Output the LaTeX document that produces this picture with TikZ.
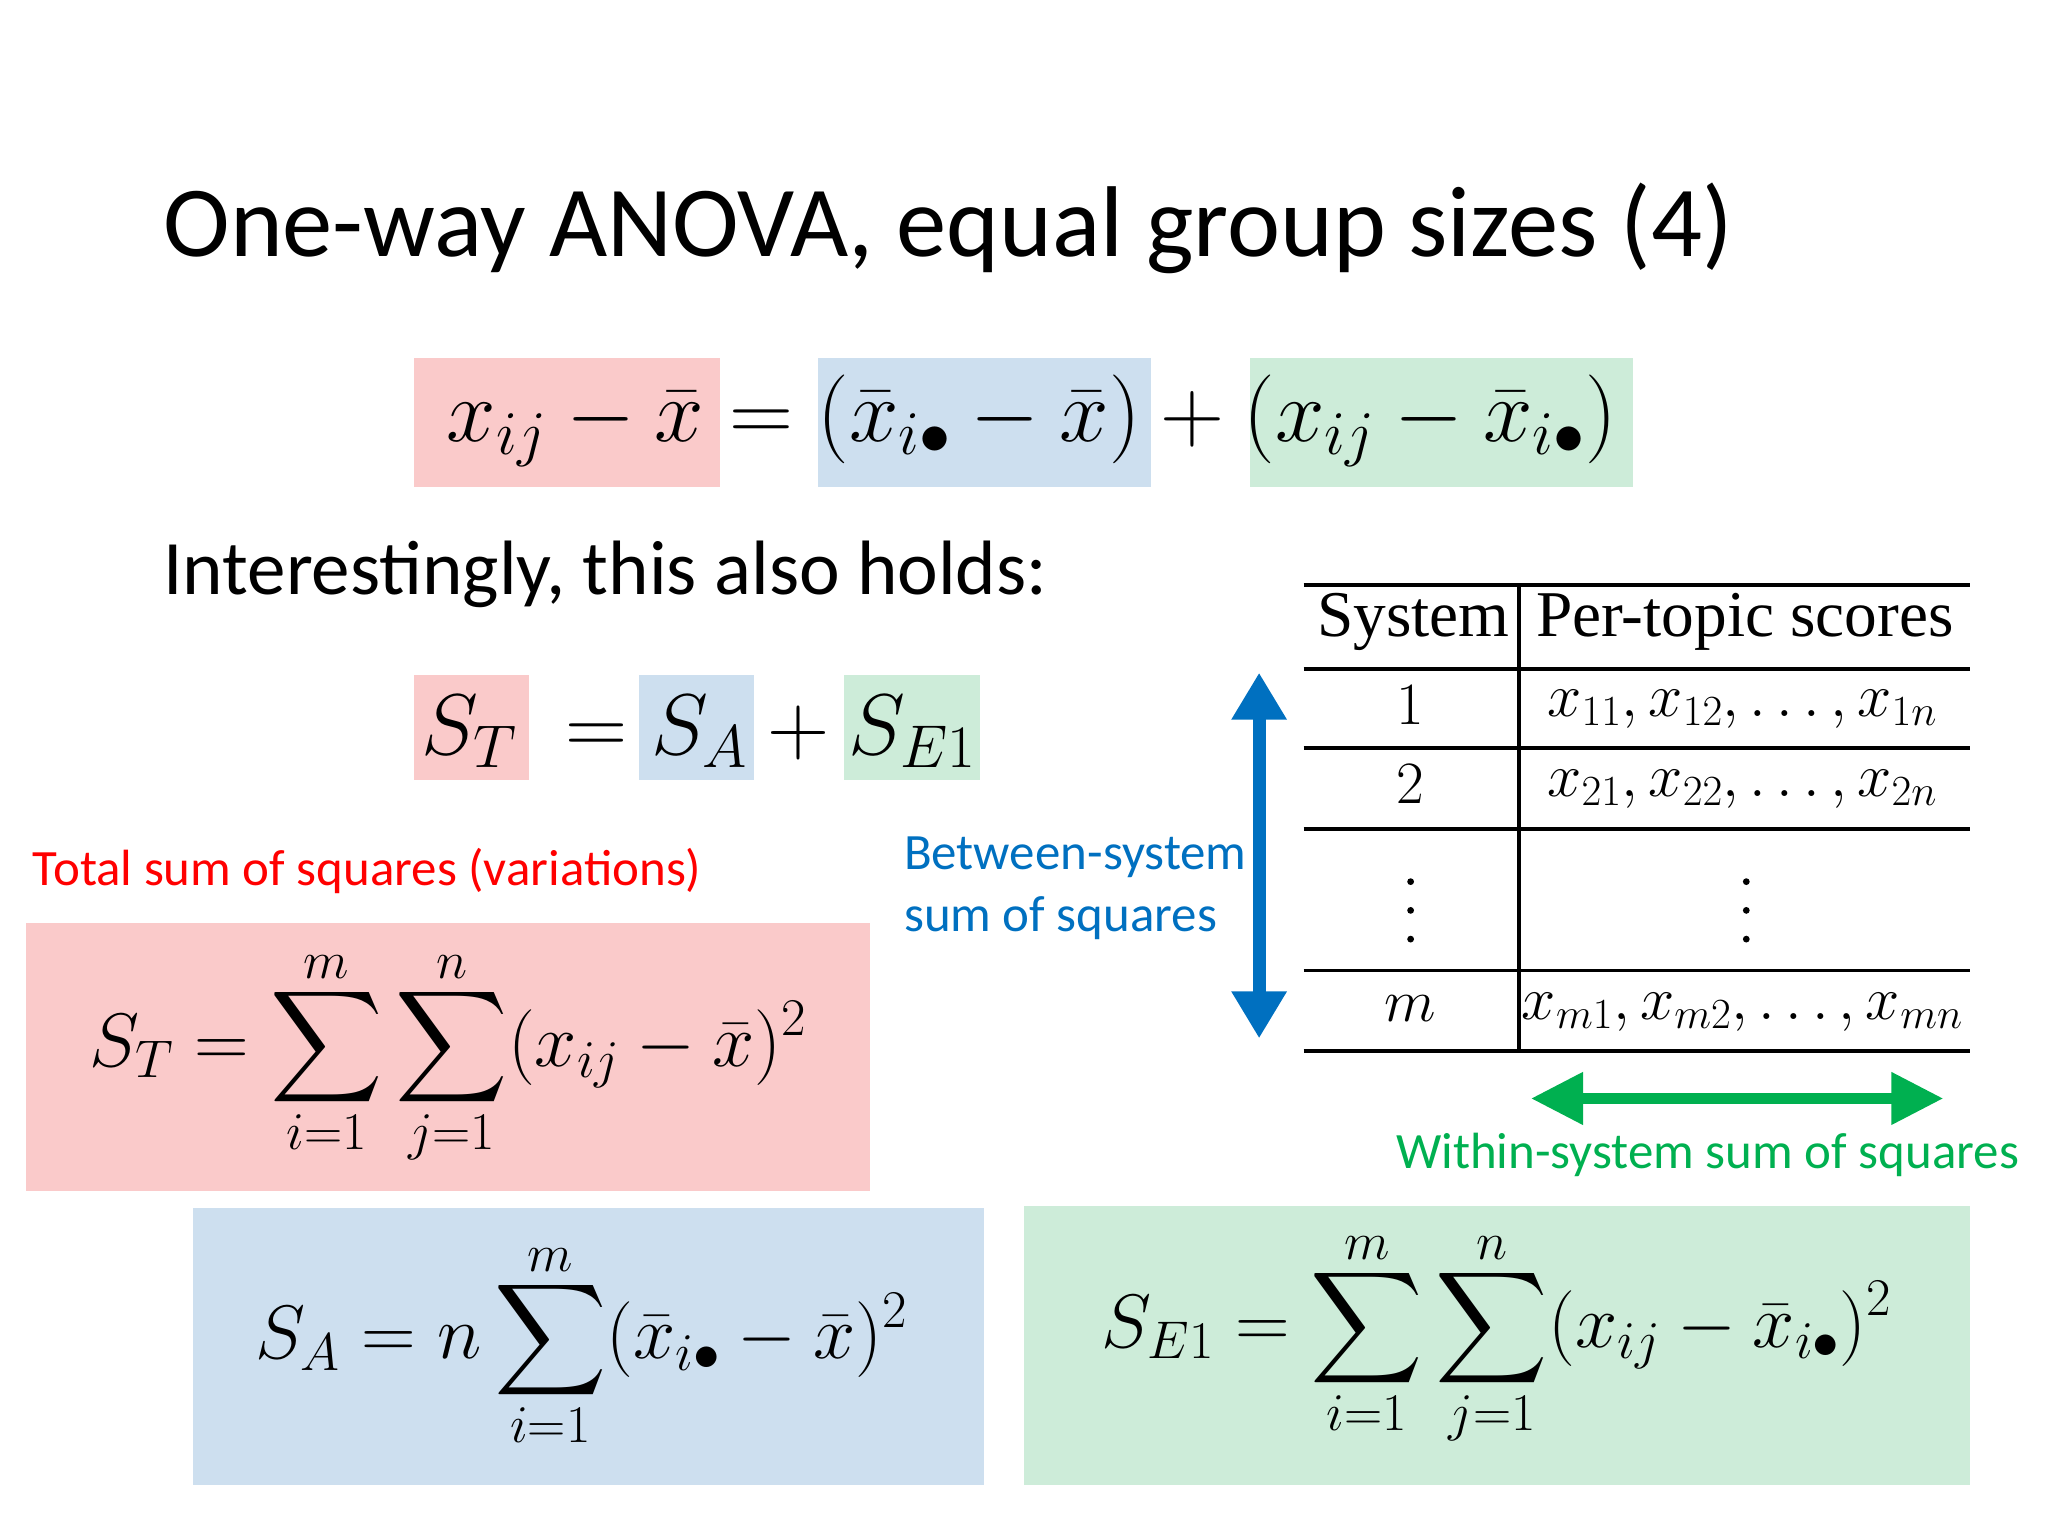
\RequirePackage{fix-cm}
\documentclass[tikz,border=0pt]{standalone}
\usepackage{amsmath}
\usepackage{graphicx}
\usepackage{fontspec}
\setmainfont{Carlito}
\usetikzlibrary{arrows.meta}
\definecolor{pk}{RGB}{250,202,202}
\definecolor{bl}{RGB}{205,223,239}
\definecolor{gr}{RGB}{205,236,217}
\definecolor{ablue}{RGB}{0,112,192}
\definecolor{agreen}{RGB}{0,176,80}
\newcommand{\fs}[1]{\fontsize{#1}{#1}\selectfont}
\newcommand{\Bsum}{\mathop{\vcenter{\hbox{\scalebox{2.4}{$\displaystyle\sum$}}}}\limits}
\begin{document}
\begin{tikzpicture}[x=1pt,y=-1pt,
  eq/.style={inner sep=0pt,anchor=center},
  txt/.style={inner sep=0pt,anchor=west},
  rl/.style={line width=3pt}]
\useasboundingbox (0,0) rectangle (1568,1176);
\node[txt] (title) at (125,175) {\fs{77}One-way ANOVA, equal group sizes (4)};
% eq1
\fill[pk] (317,274) rectangle (551,373);
\fill[bl] (626,274) rectangle (881,373);
\fill[gr] (957,274) rectangle (1250,373);
\node[eq] (e1) at (790,322) {\fs{68}$x_{ij}-\bar{x}=(\bar{x}_{i\bullet}-\bar{x})+(x_{ij}-\bar{x}_{i\bullet})$};
\node[txt] (int) at (125,440) {\fs{59}Interestingly, this also holds:};
% eq2
\fill[pk] (317,517) rectangle (405,597);
\fill[bl] (489,517) rectangle (577,597);
\fill[gr] (646,517) rectangle (750,597);
\node[eq] (e2) at (535,560) {\fs{66}$S_T\;=S_A+S_{E1}$};
\node[txt,text=red] (tss) at (25,667) {\fs{39}Total sum of squares (variations)};
\fill[pk] (20,707) rectangle (666,912);
\node[eq] (st) at (343,810) {\fs{58}$\displaystyle S_T=\Bsum_{i=1}^{m}\Bsum_{j=1}^{n}(x_{ij}-\bar{x})^2$};
\fill[bl] (148,925) rectangle (753,1137);
\node[eq] (sa) at (445,1030) {\fs{58}$\displaystyle S_A=n\Bsum_{i=1}^{m}(\bar{x}_{i\bullet}-\bar{x})^2$};
\fill[gr] (784,923) rectangle (1508,1137);
\node[eq] (se) at (1146,1025) {\fs{58}$\displaystyle S_{E1}=\Bsum_{i=1}^{m}\Bsum_{j=1}^{n}(x_{ij}-\bar{x}_{i\bullet})^2$};
% table
\foreach \y in {448,512,573,635,743,805} \draw[rl] (998,\y) -- (1508,\y);
\draw[rl] (1163,448) -- (1163,805);
\node[eq] (h1) at (1082,476) {\fs{50}\fontspec{Liberation Serif}System};
\node[eq] (h2) at (1336,476) {\fs{50}\fontspec{Liberation Serif}Per-topic scores};
\node[eq] (r1) at (1080,540) {\fs{46}$1$};
\node[eq] (r2) at (1080,600) {\fs{46}$2$};
\node[eq] (r4) at (1080,772) {\fs{46}$m$};
\foreach \x in {1080,1337} \foreach \y in {675,697,719} \fill (\x,\y) circle (2.6);
\node[eq] (c1) at (1334,543) {\fs{47}$x_{11},x_{12},\ldots,x_{1n}$};
\node[eq] (c2) at (1334,604) {\fs{47}$x_{21},x_{22},\ldots,x_{2n}$};
\node[eq] (c4) at (1334,775) {\fs{47}$x_{m1},x_{m2},\ldots,x_{mn}$};
% arrows
\coordinate (va) at (964,515); \coordinate (vb) at (964,795);
\draw[ablue,line width=10pt,{Triangle[width=40pt,length=36pt]}-{Triangle[width=40pt,length=36pt]}] (va) -- (vb);
\node[txt,text=ablue] (b1) at (692,656) {\fs{39}Between-system};
\node[txt,text=ablue] (b2) at (692,703) {\fs{39}sum of squares};
\coordinate (ha) at (1172,841); \coordinate (hb) at (1488,841);
\draw[agreen,line width=9pt,{Triangle[width=38pt,length=40pt]}-{Triangle[width=38pt,length=40pt]}] (ha) -- (hb);
\node[inner sep=0pt,anchor=east,text=agreen] (w) at (1546,884) {\fs{39}Within-system sum of squares};
\end{tikzpicture}
\end{document}
